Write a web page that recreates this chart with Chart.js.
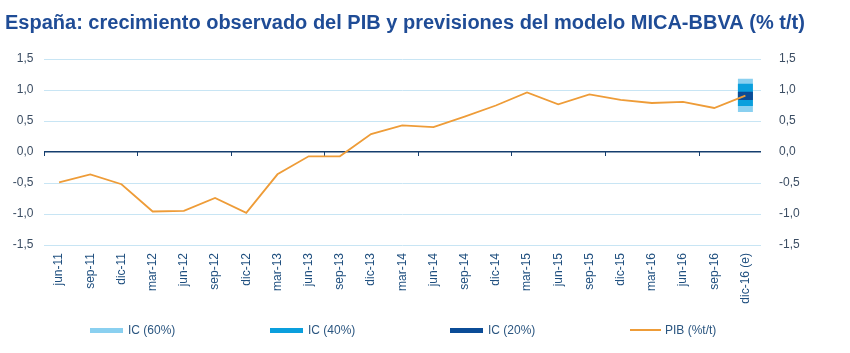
<!DOCTYPE html>
<html>
<head>
<meta charset="utf-8">
<script src="https://cdn.jsdelivr.net/npm/chart.js@4"></script>
<style>
  body { margin: 0; background: #fff; }
  #wrap { position: relative; width: 850px; height: 353px; }
  #legend { position: absolute; left: 0; top: 322px; width: 850px; height: 16px;
            font: 12px 'Liberation Sans', Arial, sans-serif; color: #2b5680; }
  .item { position: absolute; top: 0; height: 16px; display: flex; align-items: center; }
  .swatch { width: 33px; height: 5px; margin-right: 5px; }
  .swline { width: 31px; height: 2px; margin-right: 4px; }
</style>
</head>
<body>
<div id="wrap">
  <canvas id="myChart" width="850" height="353"></canvas>
  <div id="legend"></div>
</div>
<script>
// trimestres
let labels = ['jun-11', 'sep-11', 'dic-11', 'mar-12', 'jun-12', 'sep-12', 'dic-12',
    'mar-13', 'jun-13', 'sep-13', 'dic-13', 'mar-14', 'jun-14', 'sep-14', 'dic-14',
    'mar-15', 'jun-15', 'sep-15', 'dic-15', 'mar-16', 'jun-16', 'sep-16', 'dic-16 (e)'];

// PIB % t/t
let pib = [-0.49, -0.36, -0.52, -0.96, -0.95, -0.74, -0.98,
    -0.36, -0.07, -0.07, 0.29, 0.43, 0.40, 0.57, 0.75,
    0.96, 0.77, 0.93, 0.84, 0.79, 0.81, 0.71, 0.91];

// intervalos de confianza (min, max) para dic-16
let ic60 = [0.645, 1.18];
let ic40 = [0.74, 1.10];
let ic20 = [0.84, 0.97];

let yTicks = [-1.5, -1.0, -0.5, 0.0, 0.5, 1.0, 1.5];

let seriesNames = ['IC (60%)', 'IC (40%)', 'IC (20%)', 'PIB (%t/t)'];
let colors = ['#8ad0f0', '#0a9fdd', '#0b4c97', '#ee9c38'];

const FONT = "'Liberation Sans', Arial, sans-serif";

function lastOnly(range) {
    return labels.map((l, i) => i === labels.length - 1 ? range : null);
}

function fmt(v) {
    return v.toFixed(1).replace('.', ',');
}

// marcas del eje en y=0, cada 3 trimestres
const zeroTicks = {
    id: 'zeroTicks',
    beforeDatasetsDraw(chart) {
        let x = chart.scales.x;
        let y = chart.scales.y;
        let y0 = y.getPixelForValue(0);
        let ctx = chart.ctx;
        ctx.save();
        ctx.strokeStyle = '#153e6e';
        ctx.lineWidth = 1;
        for (let k = 0; k <= labels.length; k += 3) {
            let px = Math.round(x.getPixelForValue(k - 0.5)) + 0.5;
            ctx.beginPath();
            ctx.moveTo(px, y0);
            ctx.lineTo(px, y0 + 4);
            ctx.stroke();
        }
        ctx.restore();
    }
};

function bandSet(i, range, order) {
    return {
        type: 'bar',
        label: seriesNames[i],
        data: lastOnly(range),
        backgroundColor: colors[i],
        borderWidth: 0,
        grouped: false,
        barPercentage: 0.48,
        categoryPercentage: 1,
        order: order,
        yAxisID: 'y'
    };
}

let ctx = document.getElementById('myChart');

new Chart(ctx, {
    data: {
        labels: labels,
        datasets: [
            bandSet(0, ic60, 3),
            bandSet(1, ic40, 2),
            bandSet(2, ic20, 1),
            {
                type: 'line',
                label: seriesNames[3],
                data: pib,
                borderColor: colors[3],
                borderWidth: 1.8,
                pointRadius: 0,
                tension: 0,
                order: 0,
                yAxisID: 'y'
            }
        ]
    },
    options: {
        responsive: false,
        devicePixelRatio: 1,
        animation: false,
        layout: { padding: { left: 5, right: 0, top: 0, bottom: 33 } },
        plugins: {
            legend: { display: false },
            tooltip: { enabled: false },
            title: {
                display: true,
                text: 'España: crecimiento observado del PIB y previsiones del modelo MICA-BBVA (% t/t)',
                align: 'start',
                color: '#1f4c96',
                font: { family: FONT, size: 20, weight: 'bold' },
                padding: { top: 11, bottom: 24 }
            }
        },
        scales: {
            x: {
                offset: true,
                grid: { display: false },
                border: { display: false },
                ticks: {
                    autoSkip: false,
                    minRotation: 90,
                    maxRotation: 90,
                    padding: 0,
                    color: '#1f4f7f',
                    font: { family: FONT, size: 12 }
                },
                afterFit(scale) { scale.height = 75; }
            },
            y: {
                position: 'left',
                min: -1.5,
                max: 1.5,
                border: { display: false },
                grid: {
                    drawTicks: false,
                    color: (c) => c.tick && c.tick.value === 0 ? '#153e6e' : '#c8e5f4',
                    lineWidth: (c) => c.tick && c.tick.value === 0 ? 1.5 : 1
                },
                afterBuildTicks(scale) { scale.ticks = yTicks.map(v => ({ value: v })); },
                ticks: {
                    padding: 10,
                    color: '#3b4d63',
                    font: { family: FONT, size: 12 },
                    callback: (v) => fmt(v)
                },
                afterFit(scale) { scale.width = 38.5; }
            },
            y2: {
                position: 'right',
                min: -1.5,
                max: 1.5,
                border: { display: false },
                grid: { display: false },
                afterBuildTicks(scale) { scale.ticks = yTicks.map(v => ({ value: v })); },
                ticks: {
                    padding: 10,
                    color: '#3b4d63',
                    font: { family: FONT, size: 12 },
                    callback: (v) => fmt(v)
                },
                afterFit(scale) { scale.width = 89; }
            }
        }
    },
    plugins: [zeroTicks]
});

// leyenda
let legend = document.getElementById('legend');
seriesNames.forEach((name, i) => {
    let item = document.createElement('div');
    item.className = 'item';
    item.style.left = (90 + i * 180) + 'px';
    let sw = document.createElement('span');
    sw.className = i === 3 ? 'swline' : 'swatch';
    sw.style.background = colors[i];
    item.appendChild(sw);
    item.appendChild(document.createTextNode(name));
    legend.appendChild(item);
});
</script>
</body>
</html>
